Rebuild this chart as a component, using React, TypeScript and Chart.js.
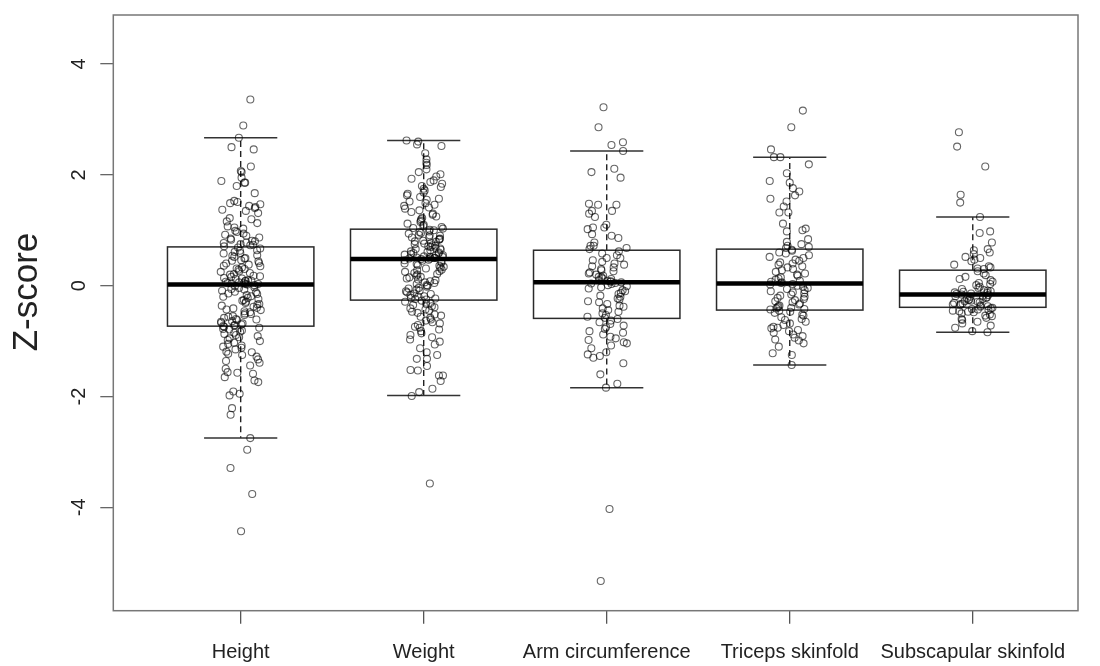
import React, { useEffect, useRef } from "react";
import { Chart, registerables } from "chart.js";

Chart.register(...registerables);

const categories = ["Height", "Weight", "Arm circumference", "Triceps skinfold", "Subscapular skinfold"];
const yTickValues = [-4, -2, 0, 2, 4];

const heightZ = [
  3.36, 2.89, 2.67, 2.5, 2.46, 2.15, 2.07, 2.05, 1.95, 1.89, 1.86, 1.86, 1.8, 1.67, 1.53, 1.51, 1.49, 1.47, 1.44, 1.42,
  1.4, 1.37, 1.35, 1.31, 1.22, 1.2, 1.16, 1.13, 1.07, 1.05, 1.03, 0.99, 0.97, 0.94, 0.92, 0.9, 0.87, 0.85, 0.83, 0.81,
  0.8, 0.78, 0.77, 0.75, 0.74, 0.73, 0.71,
  0.69, 0.67, 0.64, 0.63, 0.61, 0.59, 0.58, 0.55, 0.54, 0.52, 0.5, 0.49, 0.46, 0.45, 0.44, 0.41, 0.4, 0.38, 0.36, 0.35,
  0.33, 0.31, 0.3, 0.29, 0.26, 0.25, 0.23, 0.21, 0.2, 0.18, 0.17, 0.16, 0.14, 0.13, 0.12, 0.1, 0.09, 0.09, 0.08, 0.07,
  0.06, 0.05, 0.05, 0.04, 0.03, 0.03, 0.02,
  0.01, -0.01, -0.03, -0.04, -0.06, -0.07, -0.09, -0.11, -0.12, -0.14, -0.15, -0.17, -0.19, -0.2, -0.22, -0.24, -0.26,
  -0.27, -0.29, -0.31, -0.33, -0.34, -0.36, -0.38, -0.4, -0.41, -0.43, -0.44, -0.46, -0.48, -0.5, -0.51, -0.53, -0.55,
  -0.56, -0.58, -0.6, -0.61, -0.62, -0.64, -0.65, -0.67, -0.68, -0.7, -0.71, -0.72, -0.73,
  -0.74, -0.76, -0.78, -0.79, -0.81, -0.83, -0.85, -0.87, -0.89, -0.91, -0.93, -0.95, -0.98, -1.0, -1.03, -1.05, -1.08,
  -1.1, -1.12, -1.15, -1.19, -1.2, -1.23, -1.25, -1.28, -1.33, -1.36, -1.39, -1.44, -1.5, -1.56, -1.57, -1.59, -1.65,
  -1.71, -1.74, -1.91, -1.95, -1.98, -2.21, -2.33, -2.75, -2.96, -3.29, -3.76, -4.43,
];

const weightZ = [
  2.62, 2.6, 2.55, 2.52, 2.39, 2.28, 2.22, 2.18, 2.1, 2.05, 2.01, 1.97, 1.93, 1.9, 1.87, 1.84, 1.8, 1.78, 1.75, 1.72,
  1.68, 1.66, 1.63, 1.6, 1.57, 1.55, 1.52, 1.49, 1.46, 1.44, 1.41, 1.39, 1.36, 1.33, 1.3, 1.28, 1.25, 1.22, 1.2, 1.17,
  1.15, 1.12, 1.1, 1.08, 1.06, 1.04, 1.03,
  1.01, 1.0, 0.98, 0.97, 0.95, 0.94, 0.92, 0.91, 0.9, 0.88, 0.87, 0.85, 0.84, 0.83, 0.81, 0.8, 0.79, 0.77, 0.76, 0.75,
  0.73, 0.72, 0.71, 0.7, 0.68, 0.67, 0.66, 0.65, 0.64, 0.62, 0.61, 0.6, 0.59, 0.58, 0.57, 0.56, 0.55, 0.54, 0.53, 0.52,
  0.52, 0.51, 0.5, 0.5, 0.49, 0.49, 0.48,
  0.47, 0.46, 0.45, 0.43, 0.42, 0.4, 0.39, 0.37, 0.36, 0.34, 0.33, 0.31, 0.29, 0.28, 0.26, 0.25, 0.23, 0.21, 0.2, 0.18,
  0.16, 0.15, 0.13, 0.11, 0.1, 0.08, 0.06, 0.05, 0.03, 0.01, 0.0, -0.02, -0.04, -0.05, -0.07, -0.09, -0.1, -0.12,
  -0.14, -0.15, -0.17, -0.19, -0.2, -0.22, -0.23, -0.24, -0.25,
  -0.27, -0.29, -0.31, -0.33, -0.35, -0.37, -0.39, -0.41, -0.43, -0.45, -0.47, -0.49, -0.52, -0.54, -0.56, -0.58,
  -0.61, -0.63, -0.66, -0.68, -0.71, -0.74, -0.76, -0.79, -0.82, -0.86, -0.89, -0.93, -0.97, -1.01, -1.06, -1.13,
  -1.2, -1.25, -1.32, -1.32, -1.45, -1.52, -1.53, -1.62, -1.62, -1.72, -1.86, -1.92, -1.99, -3.57,
];

const armZ = [
  3.22, 2.86, 2.59, 2.54, 2.43, 2.11, 2.05, 1.95, 1.48, 1.46, 1.46, 1.35, 1.35, 1.3, 1.24, 1.1, 1.05, 1.05, 1.02,
  0.93, 0.9, 0.86, 0.78, 0.72, 0.72, 0.68, 0.66,
  0.62, 0.58, 0.55, 0.5, 0.5, 0.46, 0.43, 0.4, 0.38, 0.35, 0.33, 0.3, 0.28, 0.26, 0.24, 0.22, 0.2, 0.18, 0.16, 0.15,
  0.13, 0.12, 0.1, 0.09, 0.08, 0.07, 0.06,
  0.05, 0.04, 0.03, 0.01, -0.01, -0.03, -0.05, -0.08, -0.1, -0.13, -0.15, -0.18, -0.2, -0.23, -0.25, -0.28, -0.3,
  -0.33, -0.36, -0.38, -0.41, -0.44, -0.47, -0.5, -0.53, -0.56, -0.58,
  -0.6, -0.63, -0.66, -0.69, -0.72, -0.75, -0.78, -0.82, -0.85, -0.88, -0.92, -0.95, -0.98, -1.02, -1.04, -1.08,
  -1.13, -1.2, -1.24, -1.27, -1.3, -1.4, -1.6, -1.77, -1.84, -4.03, -5.33,
];

const tricepsZ = [
  3.16, 2.86, 2.46, 2.32, 2.32, 2.19, 2.03, 1.89, 1.86, 1.76, 1.7, 1.63, 1.57, 1.52, 1.43, 1.32, 1.32, 1.12, 1.03,
  1.0, 0.98, 0.84, 0.79, 0.75, 0.72, 0.7, 0.68,
  0.65, 0.63, 0.6, 0.58, 0.55, 0.52, 0.5, 0.47, 0.45, 0.42, 0.4, 0.38, 0.35, 0.33, 0.3, 0.28, 0.25, 0.22, 0.2, 0.18,
  0.15, 0.13, 0.11, 0.09, 0.07, 0.06, 0.05,
  0.03, 0.02, 0.0, -0.02, -0.04, -0.06, -0.08, -0.1, -0.12, -0.14, -0.16, -0.18, -0.2, -0.22, -0.24, -0.26, -0.28,
  -0.3, -0.32, -0.34, -0.36, -0.37, -0.39, -0.4, -0.41, -0.42, -0.43,
  -0.45, -0.47, -0.49, -0.52, -0.54, -0.57, -0.6, -0.62, -0.65, -0.68, -0.71, -0.74, -0.76, -0.77, -0.8, -0.82,
  -0.85, -0.88, -0.91, -0.94, -0.97, -0.99, -1.04, -1.1, -1.22, -1.25, -1.43,
];

const subscapularZ = [
  2.77, 2.51, 2.15, 1.64, 1.5, 1.24, 0.98, 0.95, 0.78, 0.66, 0.64, 0.6, 0.57, 0.52, 0.5, 0.47, 0.44, 0.38, 0.35,
  0.33, 0.31, 0.3,
  0.26, 0.22, 0.19, 0.16, 0.12, 0.1, 0.07, 0.05, 0.03, 0.01, -0.02, -0.04, -0.06, -0.08, -0.09, -0.1, -0.11, -0.12,
  -0.13, -0.14, -0.15, -0.16,
  -0.17, -0.18, -0.19, -0.2, -0.21, -0.22, -0.23, -0.24, -0.25, -0.26, -0.27, -0.28, -0.29, -0.3, -0.31, -0.32,
  -0.33, -0.34, -0.35, -0.36, -0.37, -0.38,
  -0.4, -0.41, -0.42, -0.43, -0.44, -0.45, -0.46, -0.47, -0.48, -0.5, -0.52, -0.54, -0.55, -0.58, -0.6, -0.62,
  -0.65, -0.68, -0.72, -0.76, -0.82, -0.84,
];

const groupValues = [heightZ, weightZ, armZ, tricepsZ, subscapularZ];

// box statistics
const medians = [0.02, 0.48, 0.06, 0.04, -0.16];
const lowerQuartiles = [-0.73, -0.26, -0.59, -0.44, -0.39];
const upperQuartiles = [0.7, 1.02, 0.64, 0.66, 0.28];
const whiskerLows = [-2.75, -1.98, -1.84, -1.43, -0.84];
const whiskerHighs = [2.67, 2.62, 2.43, 2.32, 1.24];

// deterministic horizontal scatter of the strip points (hash of index, no randomness)
function spread(i: number, g: number) {
  const s = Math.sin((i + 1) * 12.9898 + (g + 1) * 78.233) * 43758.5453;
  const f = s - Math.floor(s);
  return (f - 0.5) * 0.22;
}

const FONT = "'Liberation Sans', Arial, Helvetica, sans-serif";

const boxPlugin = {
  id: "rbox",
  beforeDatasetsDraw(chart: any) {
    const { ctx, chartArea } = chart;
    const xs = chart.scales.x;
    const ys = chart.scales.y;
    ctx.save();
    for (let g = 0; g < categories.length; g++) {
      const cx = xs.getPixelForValue(g + 1);
      const left = xs.getPixelForValue(g + 1 - 0.4);
      const right = xs.getPixelForValue(g + 1 + 0.4);
      const capL = xs.getPixelForValue(g + 1 - 0.2);
      const capR = xs.getPixelForValue(g + 1 + 0.2);
      const yq1 = ys.getPixelForValue(lowerQuartiles[g]);
      const yq3 = ys.getPixelForValue(upperQuartiles[g]);
      const ymed = ys.getPixelForValue(medians[g]);
      const ylo = ys.getPixelForValue(whiskerLows[g]);
      const yhi = ys.getPixelForValue(whiskerHighs[g]);

      ctx.strokeStyle = "#222";
      ctx.lineWidth = 1.4;
      ctx.setLineDash([6, 4]);
      ctx.beginPath();
      ctx.moveTo(cx, yq3);
      ctx.lineTo(cx, yhi);
      ctx.moveTo(cx, yq1);
      ctx.lineTo(cx, ylo);
      ctx.stroke();
      ctx.setLineDash([]);

      ctx.strokeStyle = "#333";
      ctx.lineWidth = 1.5;
      ctx.beginPath();
      ctx.moveTo(capL, yhi);
      ctx.lineTo(capR, yhi);
      ctx.moveTo(capL, ylo);
      ctx.lineTo(capR, ylo);
      ctx.stroke();

      ctx.strokeStyle = "#2a2a2a";
      ctx.lineWidth = 1.5;
      ctx.strokeRect(left, yq3, right - left, yq1 - yq3);

      ctx.strokeStyle = "#000";
      ctx.lineWidth = 4.5;
      ctx.lineCap = "butt";
      ctx.beginPath();
      ctx.moveTo(left, ymed);
      ctx.lineTo(right, ymed);
      ctx.stroke();
    }
    ctx.strokeStyle = "#777";
    ctx.lineWidth = 1.5;
    ctx.strokeRect(chartArea.left, chartArea.top, chartArea.right - chartArea.left, chartArea.bottom - chartArea.top);
    ctx.restore();
  },
  afterDraw(chart: any) {
    const { ctx } = chart;
    const ys = chart.scales.y;
    ctx.save();
    ctx.fillStyle = "#222";
    ctx.textAlign = "center";
    ctx.textBaseline = "alphabetic";
    ctx.font = `20px ${FONT}`;
    for (const v of yTickValues) {
      const py = ys.getPixelForValue(v);
      ctx.save();
      ctx.translate(85, py);
      ctx.rotate(-Math.PI / 2);
      ctx.fillText(String(v), 0, 0);
      ctx.restore();
    }
    ctx.font = `35px ${FONT}`;
    ctx.save();
    ctx.translate(37, 292);
    ctx.rotate(-Math.PI / 2);
    ctx.fillText("Z-score", 0, 0);
    ctx.restore();
    ctx.restore();
  },
};

export default function App() {
  const canvasRef = useRef<HTMLCanvasElement | null>(null);

  useEffect(() => {
    document.body.style.margin = "0";
    const canvas = canvasRef.current;
    if (!canvas) return;
    const datasets = groupValues.map((vals, g) => ({
      label: categories[g],
      data: vals.map((v, i) => ({ x: g + 1 + spread(i, g), y: v })),
      pointRadius: 3.5,
      pointBorderWidth: 1.1,
      pointBorderColor: "rgba(0,0,0,0.6)",
      pointBackgroundColor: "rgba(0,0,0,0)",
      showLine: false,
    }));
    const chart = new Chart(canvas, {
      type: "scatter",
      data: { datasets },
      options: {
        animation: false,
        responsive: false,
        maintainAspectRatio: false,
        layout: { padding: { top: 7.3, right: 22, left: 0, bottom: 0 } },
        plugins: { legend: { display: false }, tooltip: { enabled: false } },
        scales: {
          x: {
            type: "linear",
            min: 0.304,
            max: 5.575,
            afterBuildTicks: (s: any) => {
              s.ticks = categories.map((_, i) => ({ value: i + 1 }));
            },
            afterFit: (s: any) => {
              s.height = 55.3;
            },
            ticks: {
              autoSkip: false,
              maxRotation: 0,
              minRotation: 0,
              padding: 17,
              color: "#222",
              font: { size: 20, family: FONT },
              callback: (v: any) => categories[Math.round(Number(v)) - 1] ?? "",
            },
            grid: { drawOnChartArea: false, tickLength: 13, color: "#555", lineWidth: 1.3 },
            border: { display: false },
          },
          y: {
            type: "linear",
            min: -5.865,
            max: 4.885,
            afterBuildTicks: (s: any) => {
              s.ticks = yTickValues.map((v) => ({ value: v }));
            },
            afterFit: (s: any) => {
              s.width = 113.3;
            },
            ticks: { callback: () => "", font: { size: 20, family: FONT } },
            grid: { drawOnChartArea: false, tickLength: 13, color: "#666", lineWidth: 1.3 },
            border: { display: false },
          },
        },
      },
      plugins: [boxPlugin],
    });
    return () => chart.destroy();
  }, []);

  return (
    <div style={{ width: 1100, height: 666, background: "#fff" }}>
      <canvas ref={canvasRef} width={1100} height={666} style={{ display: "block", width: 1100, height: 666 }} />
    </div>
  );
}
